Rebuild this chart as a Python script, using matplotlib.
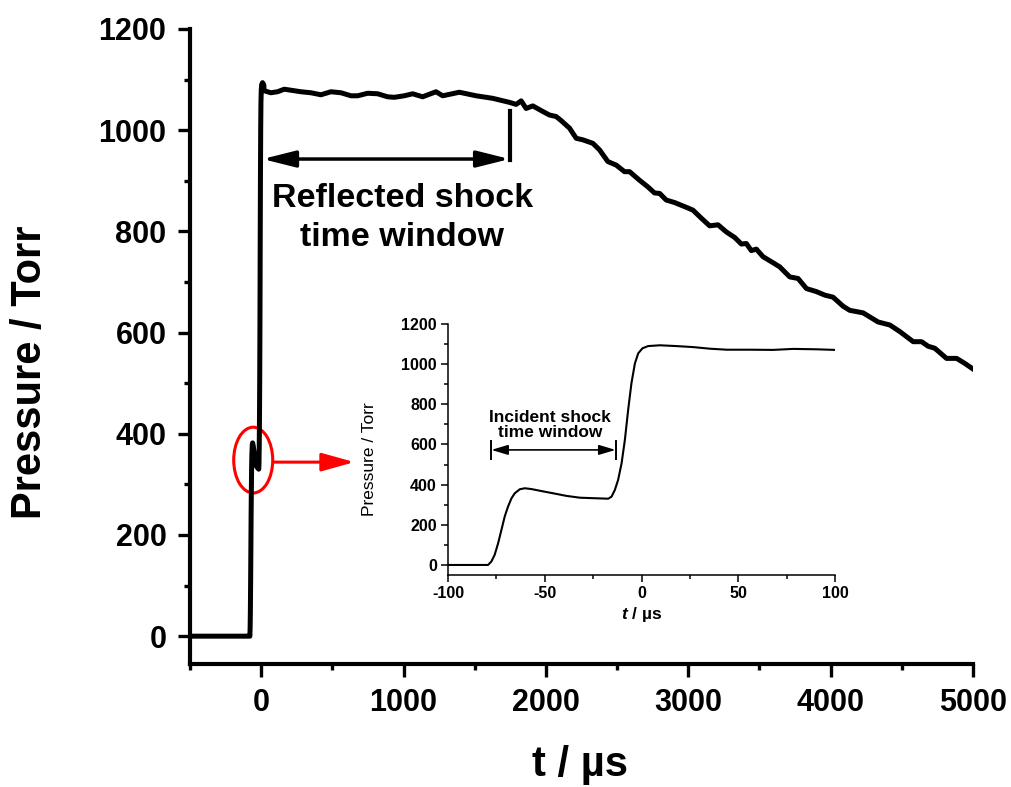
import matplotlib
matplotlib.use('Agg')
import matplotlib.pyplot as plt
from matplotlib.patches import Ellipse
from matplotlib.ticker import MultipleLocator

plt.rcParams['font.family'] = ['Liberation Sans', 'DejaVu Sans']
plt.rcParams['mathtext.fontset'] = 'custom'
plt.rcParams['mathtext.it'] = 'Liberation Sans:italic:bold'
plt.rcParams['mathtext.rm'] = 'Liberation Sans:bold'
plt.rcParams['axes.unicode_minus'] = False

# incident shock region (inset), t in microseconds, pressure in Torr
t_inc = [-100, -90, -79.3, -77.6, -75.9, -74.1, -72.4, -70.7, -69.0, -67.2, -65.5,
         -62.9, -60.3, -56.9, -51.7, -45.7, -38.8, -31.9, -23.3, -17.2, -15.5,
         -13.8, -12.1, -10.3, -8.6, -6.9, -5.2, -3.4, -1.7, 0.5, 3.4, 9.5, 18.1,
         26.7, 35.3, 44.0, 56.0, 68.0, 78.4, 90.5, 100]
p_inc = [0, 0, 0, 17, 50, 108, 174, 241, 290, 332, 357,
         377, 382, 378, 368, 357, 344, 335, 332, 330, 340,
         373, 423, 506, 622, 772, 905, 1004, 1054, 1079, 1090, 1094, 1090,
         1085, 1077, 1072, 1072, 1071, 1076, 1074, 1071]

# reflected shock region and pressure decay (main plot)
t_refl = [21, 68, 115, 162, 209, 279, 349, 420, 490, 560, 631, 678, 748, 818, 888,
          935, 1005, 1064, 1134, 1228, 1275, 1392, 1510, 1626, 1744, 1791, 1826,
          1861, 1908, 1978, 2025, 2072, 2107, 2166, 2213, 2259, 2330, 2377, 2435,
          2494, 2552, 2588, 2658, 2716, 2763, 2799, 2845, 2904, 2974, 3033, 3092,
          3150, 3209, 3267, 3326, 3373, 3408, 3443, 3478, 3525, 3584, 3642, 3713,
          3771, 3830, 3900, 3959, 4017, 4088, 4134, 4228, 4333, 4416, 4486, 4580,
          4639, 4685, 4732, 4814, 4885, 4943, 5000]
p_refl = [1078, 1074, 1076, 1081, 1079, 1076, 1074, 1070, 1076, 1074, 1068, 1068,
          1073, 1072, 1066, 1065, 1068, 1072, 1066, 1076, 1068, 1075, 1068, 1063,
          1055, 1051, 1058, 1043, 1048, 1037, 1030, 1027, 1019, 1004, 984, 981,
          974, 961, 938, 931, 918, 918, 901, 888, 876, 875, 862, 857, 849, 842,
          826, 811, 813, 799, 788, 775, 776, 762, 765, 750, 740, 730, 710, 707,
          687, 681, 674, 670, 652, 644, 639, 621, 615, 602, 582, 582, 573, 569,
          549, 549, 539, 528]

t_main = [-500] + [t for t in t_inc if t < 20] + t_refl
p_main = [0] + [p for t, p in zip(t_inc, p_inc) if t < 20] + p_refl

W, H = 1011, 787
fig = plt.figure(figsize=(W / 100, H / 100), dpi=100)

# ---- main axes ----
ax = fig.add_axes([190 / W, 1 - 664 / H, (973 - 190) / W, (664 - 29) / H])
ax.plot(t_main, p_main, color='black', lw=3.6, solid_joinstyle='round')
ax.set_xlim(-500, 5000)
ax.set_ylim(-55, 1200)
ax.spines['top'].set_visible(False)
ax.spines['right'].set_visible(False)
for s in ['left', 'bottom']:
    ax.spines[s].set_linewidth(3)
ax.xaxis.set_major_locator(MultipleLocator(1000))
ax.xaxis.set_minor_locator(MultipleLocator(500))
ax.yaxis.set_major_locator(MultipleLocator(200))
ax.yaxis.set_minor_locator(MultipleLocator(100))
ax.tick_params(which='major', direction='out', length=9, width=2.4,
               labelsize=22, pad=8)
ax.tick_params(which='minor', direction='out', length=4.5, width=2.4)
for lab in ax.get_xticklabels() + ax.get_yticklabels():
    lab.set_fontweight('bold')

ax.set_xlabel('t / µs', fontsize=30, fontweight='bold', va='center')
ax.set_ylabel('Pressure / Torr', fontsize=30, fontweight='bold', va='center')
ax.xaxis.set_label_coords(0.498, -0.159)
ax.yaxis.set_label_coords(-0.204, 0.459)

# reflected shock time window
ax.annotate('', xy=(9, 943), xytext=(1745, 943),
            arrowprops=dict(arrowstyle='<|-|>,head_length=1.0,head_width=0.25',
                            mutation_scale=20, lw=2.5, color='black',
                            shrinkA=0, shrinkB=0))
ax.plot([1745, 1745], [941, 1037], color='black', lw=3)
ax.text(992, 826, 'Reflected shock\ntime window', fontsize=24.5,
        fontweight='bold', ha='center', va='center', linespacing=1.35)

# red ellipse and arrow toward inset
ax.add_patch(Ellipse((-56, 348), width=274, height=130, fill=False,
                     edgecolor='red', lw=2.2))
ax.annotate('', xy=(654, 344), xytext=(84, 344),
            arrowprops=dict(arrowstyle='-|>,head_length=1.0,head_width=0.28',
                            mutation_scale=20, lw=2.2, color='red',
                            shrinkA=0, shrinkB=0))

# ---- inset axes ----
ax2 = fig.add_axes([448 / W, 1 - 575 / H, (835 - 448) / W, (575 - 324) / H])
ax2.patch.set_alpha(0)
ax2.plot(t_inc, p_inc, color='black', lw=1.5)
ax2.set_xlim(-100, 100)
ax2.set_ylim(-50, 1200)
ax2.spines['top'].set_visible(False)
ax2.spines['right'].set_visible(False)
for s in ['left', 'bottom']:
    ax2.spines[s].set_linewidth(1.1)
ax2.xaxis.set_major_locator(MultipleLocator(50))
ax2.xaxis.set_minor_locator(MultipleLocator(25))
ax2.yaxis.set_major_locator(MultipleLocator(200))
ax2.yaxis.set_minor_locator(MultipleLocator(100))
ax2.tick_params(which='major', direction='out', length=5, width=1.1,
                labelsize=11.5, pad=3)
ax2.tick_params(which='minor', direction='out', length=3, width=1.1)
for lab in ax2.get_xticklabels() + ax2.get_yticklabels():
    lab.set_fontweight('bold')
ax2.set_xlabel(r'$t$ / µs', fontsize=12.5, fontweight='bold', va='center')
ax2.set_ylabel('Pressure / Torr', fontsize=12.5, va='center')
ax2.xaxis.set_label_coords(0.501, -0.159)
ax2.yaxis.set_label_coords(-0.204, 0.462)

ax2.annotate('', xy=(-77.6, 573), xytext=(-13.4, 573),
             arrowprops=dict(arrowstyle='<|-|>,head_length=1.0,head_width=0.3',
                             mutation_scale=10, lw=1.2, color='black',
                             shrinkA=0, shrinkB=0))
ax2.plot([-77.6, -77.6], [528, 617], color='black', lw=1.4)
ax2.plot([-13.4, -13.4], [528, 617], color='black', lw=1.4)
ax2.text(-47.4, 697, 'Incident shock\ntime window', fontsize=12.5,
         fontweight='bold', ha='center', va='center', linespacing=1.05)

fig.savefig('out.png', dpi=100)
